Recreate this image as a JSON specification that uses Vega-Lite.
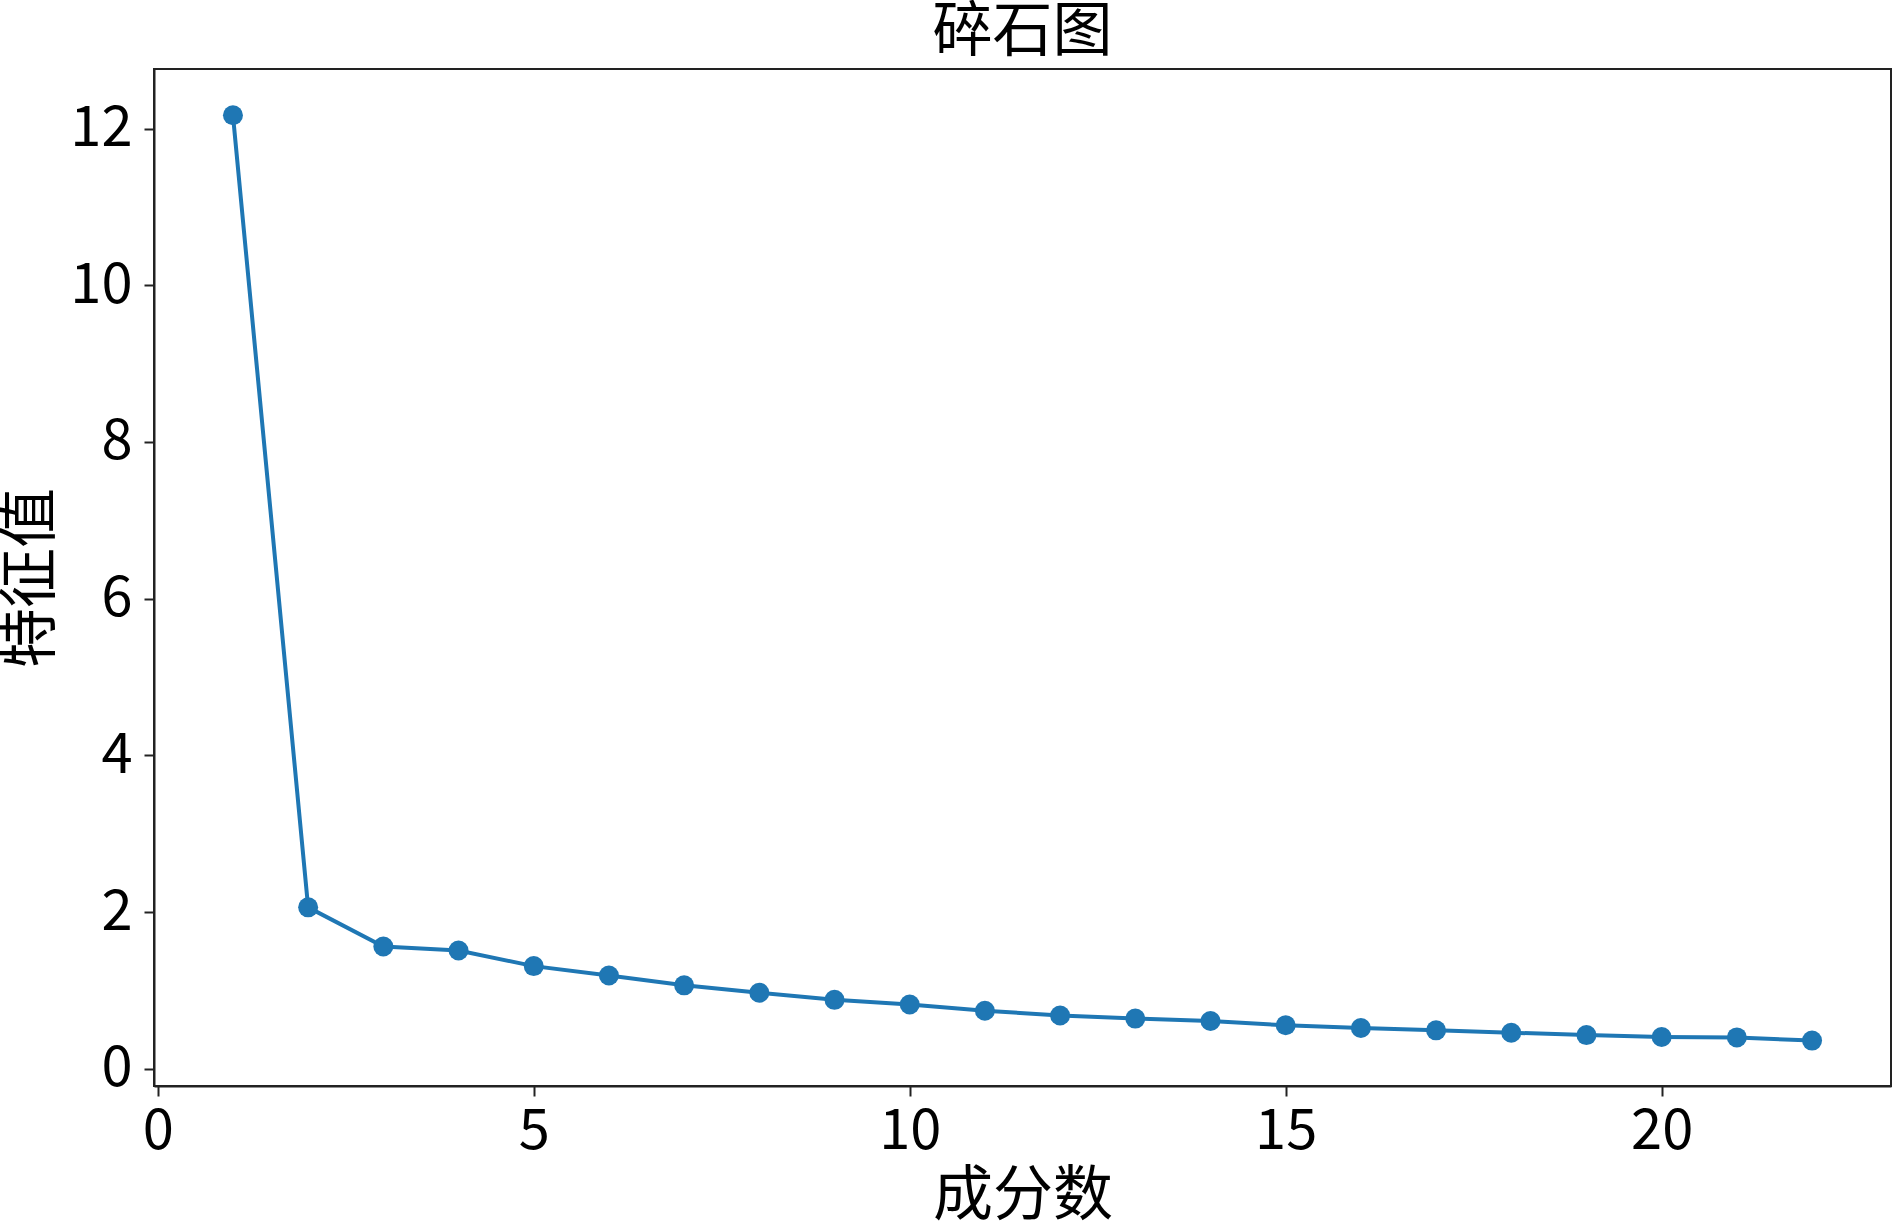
{
  "$schema": "https://vega.github.io/schema/vega-lite/v6.json",
  "width": 1737,
  "height": 1017,
  "autosize": {"type": "none"},
  "padding": {"left": 154, "top": 69, "right": 4, "bottom": 139},
  "background": "white",
  "config": {
    "font": "Noto Sans CJK SC",
    "view": {"stroke": "#222", "strokeWidth": 2},
    "axis": {
      "grid": false,
      "domainColor": "#222",
      "domainWidth": 2,
      "tickColor": "#222",
      "tickWidth": 2,
      "tickSize": 10,
      "labelFont": "Noto Sans CJK SC",
      "labelFontSize": 56,
      "labelColor": "#000",
      "titleFont": "Noto Sans CJK SC",
      "titleFontSize": 60,
      "titleFontWeight": "normal",
      "titleColor": "#000"
    }
  },
  "title": {
    "text": "碎石图",
    "font": "Noto Sans CJK SC",
    "fontSize": 60,
    "fontWeight": "normal",
    "color": "#000",
    "anchor": "middle",
    "frame": "group",
    "offset": 5
  },
  "data": {
    "values": [
      {"component": 1, "eigenvalue": 12.17},
      {"component": 2, "eigenvalue": 2.06},
      {"component": 3, "eigenvalue": 1.56},
      {"component": 4, "eigenvalue": 1.51},
      {"component": 5, "eigenvalue": 1.31},
      {"component": 6, "eigenvalue": 1.19},
      {"component": 7, "eigenvalue": 1.065},
      {"component": 8, "eigenvalue": 0.97},
      {"component": 9, "eigenvalue": 0.88},
      {"component": 10, "eigenvalue": 0.82},
      {"component": 11, "eigenvalue": 0.74},
      {"component": 12, "eigenvalue": 0.68},
      {"component": 13, "eigenvalue": 0.64},
      {"component": 14, "eigenvalue": 0.61},
      {"component": 15, "eigenvalue": 0.555},
      {"component": 16, "eigenvalue": 0.52},
      {"component": 17, "eigenvalue": 0.49},
      {"component": 18, "eigenvalue": 0.46},
      {"component": 19, "eigenvalue": 0.43},
      {"component": 20, "eigenvalue": 0.405},
      {"component": 21, "eigenvalue": 0.40},
      {"component": 22, "eigenvalue": 0.36}
    ]
  },
  "encoding": {
    "x": {
      "field": "component",
      "type": "quantitative",
      "scale": {"domain": [-0.05, 23.05], "nice": false, "zero": false},
      "axis": {"title": "成分数", "values": [0, 5, 10, 15, 20], "labelPadding": 8, "titlePadding": 8, "labelFlush": false}
    },
    "y": {
      "field": "eigenvalue",
      "type": "quantitative",
      "scale": {"domain": [-0.22, 12.76], "nice": false, "zero": false},
      "axis": {"title": "特征值", "values": [0, 2, 4, 6, 8, 10, 12], "labelPadding": 12, "titleX": -123, "titleBaseline": "middle", "labelFlush": false}
    }
  },
  "layer": [
    {"mark": {"type": "line", "color": "#1f77b4", "strokeWidth": 4}},
    {"mark": {"type": "point", "filled": true, "shape": "circle", "size": 400, "color": "#1f77b4", "opacity": 1}}
  ]
}
